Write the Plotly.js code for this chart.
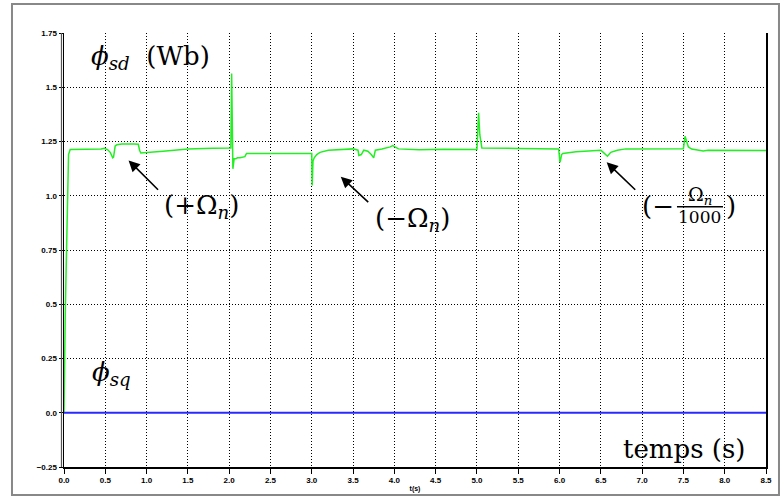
<!DOCTYPE html>
<html>
<head>
<meta charset="utf-8">
<script src="https://cdn.plot.ly/plotly-3.0.1.min.js"></script>
<style>html,body{margin:0;padding:0;background:#fff;}#chart{width:782px;height:504px;}</style>
</head>
<body>
<div id="chart"></div>
<script>
// φsd (Wb) versus time (s)
const tSd = [0, 0.005, 0.015, 0.027, 0.039, 0.055, 0.075, 0.3, 0.45, 0.49, 0.53, 0.56, 0.59, 0.6, 0.62, 0.64, 0.7, 0.85, 0.9, 0.915, 0.93, 1.2, 1.5, 1.8, 1.99, 2.02, 2.03, 2.038, 2.045, 2.06, 2.08, 2.1, 2.13, 2.19, 2.21, 2.5, 3.0, 3.005, 3.015, 3.03, 3.06, 3.1, 3.2, 3.5, 3.56, 3.57, 3.6, 3.63, 3.68, 3.72, 3.75, 3.77, 3.85, 3.95, 3.98, 4.05, 4.3, 4.6, 4.9, 5.0, 5.02, 5.035, 5.06, 5.1, 5.5, 5.99, 6.005, 6.01, 6.025, 6.04, 6.2, 6.45, 6.5, 6.53, 6.56, 6.58, 6.62, 6.7, 6.8, 7.2, 7.5, 7.52, 7.53, 7.56, 7.6, 7.65, 7.72, 7.74, 7.8, 8.2, 8.5];
const phiSd = [0, 0.21, 0.45, 0.68, 0.92, 1.19, 1.213, 1.213, 1.215, 1.219, 1.212, 1.20, 1.175, 1.178, 1.23, 1.235, 1.238, 1.238, 1.237, 1.21, 1.197, 1.205, 1.215, 1.219, 1.22, 1.22, 1.563, 1.25, 1.124, 1.17, 1.17, 1.175, 1.175, 1.18, 1.195, 1.195, 1.195, 1.047, 1.16, 1.175, 1.19, 1.2, 1.21, 1.216, 1.21, 1.186, 1.19, 1.21, 1.205, 1.19, 1.175, 1.21, 1.215, 1.225, 1.231, 1.216, 1.212, 1.214, 1.212, 1.213, 1.382, 1.28, 1.22, 1.22, 1.218, 1.215, 1.154, 1.16, 1.19, 1.195, 1.203, 1.206, 1.21, 1.2, 1.188, 1.182, 1.2, 1.21, 1.216, 1.217, 1.217, 1.274, 1.26, 1.225, 1.215, 1.213, 1.21, 1.206, 1.21, 1.209, 1.208];
// φsq (Wb) versus time (s)
const tSq = [0, 1, 2, 3, 4, 5, 6, 7, 8, 8.5];
const phiSq = [0, 0, 0, 0, 0, 0, 0, 0, 0, 0];

const xTickVals = [0, 0.5, 1, 1.5, 2, 2.5, 3, 3.5, 4, 4.5, 5, 5.5, 6, 6.5, 7, 7.5, 8, 8.5];
const xTickText = ["0.0","0.5","1.0","1.5","2.0","2.5","3.0","3.5","4.0","4.5","5.0","5.5","6.0","6.5","7.0","7.5","8.0","8.5"];
const yTickVals = [-0.25, 0, 0.25, 0.5, 0.75, 1, 1.25, 1.5, 1.75];
const yTickText = ["\u22120.25","0.0","0.25","0.5","0.75","1.0","1.25","1.5","1.75"];

const serif = {family: "DejaVu Serif", size: 26, color: "#000"};
const serifSmall = {family: "DejaVu Serif", size: 17, color: "#000"};

const traces = [
  {x: tSd, y: phiSd, type: "scatter", mode: "lines", name: "φsd",
   line: {color: "#22f022", width: 1.5}, hoverinfo: "skip"},
  {x: tSq, y: phiSq, type: "scatter", mode: "lines", name: "φsq",
   line: {color: "#2a2aff", width: 2}, hoverinfo: "skip"}
];

function arrow(hx, hy, tx, ty) {
  return {x: hx, y: hy, ax: tx, ay: ty, axref: "x", ayref: "y", xref: "x", yref: "y",
          text: "", showarrow: true, arrowhead: 2, arrowsize: 1.4, arrowwidth: 1.6, arrowcolor: "#000"};
}

const annotations = [
  {x: 1.05, y: 1.636, xref: "x", yref: "y", text: "<i>ϕ</i><sub><i>sd</i></sub>&nbsp;&nbsp;(Wb)", showarrow: false, font: serif},
  {x: 0.31, y: 0.18, xref: "x", yref: "y", xanchor: "left", text: "<i>ϕ</i><sub><i>sq</i></sub>", showarrow: false, font: serif},
  {x: 8.27, y: -0.168, xref: "x", yref: "y", xanchor: "right", text: "temps (s)", showarrow: false, font: serif},
  {x: 1.667, y: 0.95, xref: "x", yref: "y", text: "(+Ω<sub><i>n</i></sub>)", showarrow: false, font: serif},
  {x: 4.22, y: 0.89, xref: "x", yref: "y", text: "(−Ω<sub><i>n</i></sub>)", showarrow: false, font: serif},
  {x: 7.41, y: 0.952, xref: "x", yref: "y", xanchor: "right", text: "(−", showarrow: false, font: serif},
  {x: 7.70, y: 1.003, xref: "x", yref: "y", text: "Ω<sub><i>n</i></sub>", showarrow: false, font: {family: "DejaVu Serif", size: 19, color: "#000"}},
  {x: 7.70, y: 0.900, xref: "x", yref: "y", text: "1000", showarrow: false, font: serifSmall},
  {x: 7.99, y: 0.952, xref: "x", yref: "y", xanchor: "left", text: ")", showarrow: false, font: serif},
  arrow(0.782, 1.163, 1.157, 1.021),
  arrow(3.351, 1.088, 3.702, 0.964),
  arrow(6.571, 1.154, 6.935, 1.021)
];

const shapes = [
  {type: "rect", xref: "paper", yref: "paper", x0: -0.0741, x1: 1.0185, y0: -0.0645, y1: 1.0668,
   line: {color: "#888", width: 2}, fillcolor: "rgba(0,0,0,0)", layer: "below"},
  {type: "line", xref: "paper", yref: "paper", x0: -0.0036, x1: -0.0036, y0: 0, y1: 1,
   line: {color: "#555", width: 1.2}},
  {type: "line", xref: "x", yref: "y", x0: 7.422, x1: 7.979, y0: 0.9497, y1: 0.9497,
   line: {color: "#000", width: 1.5}}
];

const layout = {
  width: 782, height: 504,
  margin: {l: 64, r: 16, t: 33, b: 37},
  paper_bgcolor: "#fff", plot_bgcolor: "#fff",
  showlegend: false,
  xaxis: {
    range: [0, 8.5], tickvals: xTickVals, ticktext: xTickText,
    showgrid: true, gridcolor: "#000", griddash: "1px,2px", gridwidth: 1,
    zeroline: false, showline: true, linecolor: "#000", linewidth: 1.5,
    ticks: "outside", ticklen: 5, tickcolor: "#000", tickwidth: 1,
    tickfont: {family: "Liberation Sans", size: 8, weight: "bold", color: "#000"},
    title: {text: "t(s)", font: {family: "Liberation Sans", size: 7, weight: "bold", color: "#000"}, standoff: 2},
    automargin: false
  },
  yaxis: {
    range: [-0.25, 1.75], tickvals: yTickVals, ticktext: yTickText,
    showgrid: true, gridcolor: "#000", griddash: "1px,2px", gridwidth: 1,
    zeroline: false, showline: true, mirror: true, linecolor: "#000", linewidth: 1.5,
    ticks: "outside", ticklen: 4, tickcolor: "#000", tickwidth: 1,
    tickfont: {family: "Liberation Sans", size: 8, weight: "bold", color: "#000"},
    automargin: false
  },
  annotations: annotations,
  shapes: shapes
};

Plotly.newPlot("chart", traces, layout, {staticPlot: true, displayModeBar: false});
</script>
</body>
</html>
